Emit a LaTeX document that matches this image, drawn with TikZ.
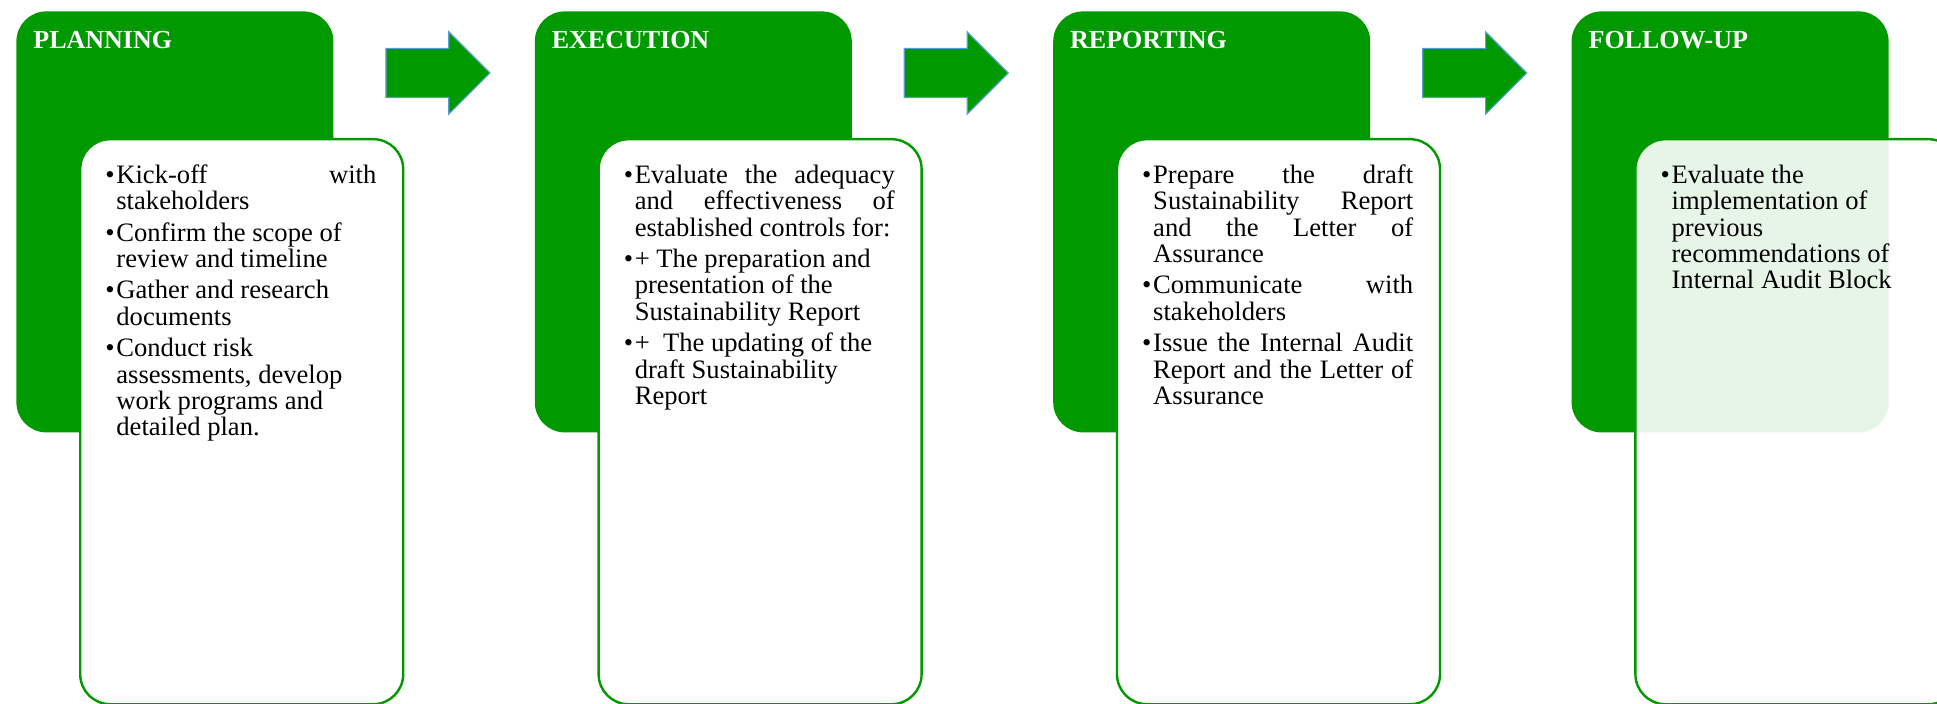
\documentclass[tikz,border=0pt]{standalone}
\usepackage{fontspec}
\setmainfont{Liberation Serif}
\usetikzlibrary{positioning,shapes.arrows,calc}
\definecolor{auditgreen}{HTML}{009900}
\definecolor{arrowblue}{HTML}{5B9BD5}
\newcommand{\cardprep}{\fontsize{13.3pt}{13.2pt}\selectfont\parskip=2.5pt
  \tolerance=10000\hbadness=10000\hyphenpenalty=10000\exhyphenpenalty=10000}
\newcommand{\pitem}[1]{\hangindent=5.5pt\hangafter=1
  \leftskip=0pt\rightskip=0pt\parfillskip=0pt plus 1fil
  \makebox[5.5pt][l]{\textbullet}\rule{0pt}{9.5pt}#1\par}

\begin{document}
\begin{tikzpicture}[
node distance=4mm and 100.3pt,
phase/.style={fill=auditgreen,draw=none,rounded corners=15pt,
minimum width=158.5pt,minimum height=210.5pt,inner sep=0pt},
card/.style={draw=auditgreen,line width=1.2pt,fill=white,rounded corners=15pt,
minimum width=161.5pt,minimum height=282.5pt,inner sep=0pt,anchor=north west},
head/.style={anchor=north west,inner sep=0pt,text=white,
font=\bfseries\fontsize{13pt}{15pt}\selectfont},
cardtxt/.style={anchor=north west,inner sep=0pt,text width=135.5pt,
align=justify,execute at begin node=\cardprep},
flow/.style={single arrow,fill=auditgreen,draw=arrowblue,line width=0.6pt,
inner xsep=0pt,inner ysep=12pt,minimum height=52pt,
single arrow head extend=8.25pt,single arrow tip angle=90}
]
\useasboundingbox (0,0) rectangle (968.5pt,-352pt);

% phase blocks
\node[phase,anchor=north west] (plan) at (8pt,-5.5pt) {};
\node[phase,right=of plan] (exec) {};
\node[phase,right=of exec] (rep)  {};
\node[phase,right=of rep]  (fol)  {};

\node[head] (planT) at ([xshift=8.5pt,yshift=-10pt]plan.north west) {PLANNING};
\node[head] (execT) at ([xshift=8.5pt,yshift=-10pt]exec.north west) {EXECUTION};
\node[head] (repT)  at ([xshift=8.5pt,yshift=-10pt]rep.north west)  {REPORTING};
\node[head] (folT)  at ([xshift=8.5pt,yshift=-10pt]fol.north west)  {FOLLOW-UP};

% arrows between phases
\node[flow] (a1) at ($(plan.north east)!0.5!(exec.north west)+(-4.25pt,-31pt)$) {};
\node[flow] (a2) at ($(exec.north east)!0.5!(rep.north west)+(-4.25pt,-31pt)$) {};
\node[flow] (a3) at ($(rep.north east)!0.5!(fol.north west)+(-4.25pt,-31pt)$) {};

% task cards
\node[card] (planC) at ([xshift=31.5pt,yshift=-63.5pt]plan.north west) {};
\node[card] (execC) at ([xshift=31.5pt,yshift=-63.5pt]exec.north west) {};
\node[card] (repC)  at ([xshift=31.5pt,yshift=-63.5pt]rep.north west)  {};
\node[card,fill opacity=0.9] (folC) at ([xshift=31.5pt,yshift=-63.5pt]fol.north west) {};

\node[cardtxt] (planL) at ([xshift=13pt,yshift=-13pt]planC.north west) {%
\pitem{Kick-off with\linebreak stakeholders}
\pitem{Confirm the scope of\newline review and timeline}
\pitem{Gather and research\newline documents}
\pitem{Conduct risk\newline assessments, develop\newline work programs and\newline detailed plan.}};
\node[cardtxt] (execL) at ([xshift=13pt,yshift=-13pt]execC.north west) {%
\pitem{Evaluate the adequacy\linebreak and effectiveness of\linebreak established controls for:}
\pitem{+ The preparation and\newline presentation of the\newline Sustainability Report}
\pitem{+\ \ The updating of the\newline draft Sustainability\newline Report}};
\node[cardtxt] (repL) at ([xshift=13pt,yshift=-13pt]repC.north west) {%
\pitem{Prepare the draft\linebreak Sustainability Report\linebreak and the Letter of\linebreak Assurance}
\pitem{Communicate with\linebreak stakeholders}
\pitem{Issue the Internal Audit\linebreak Report and the Letter of\linebreak Assurance}};
\node[cardtxt] (folL) at ([xshift=13pt,yshift=-13pt]folC.north west) {%
\pitem{Evaluate the\newline implementation of\newline previous\newline recommendations of\newline Internal Audit Block}};
\end{tikzpicture}
\end{document}
